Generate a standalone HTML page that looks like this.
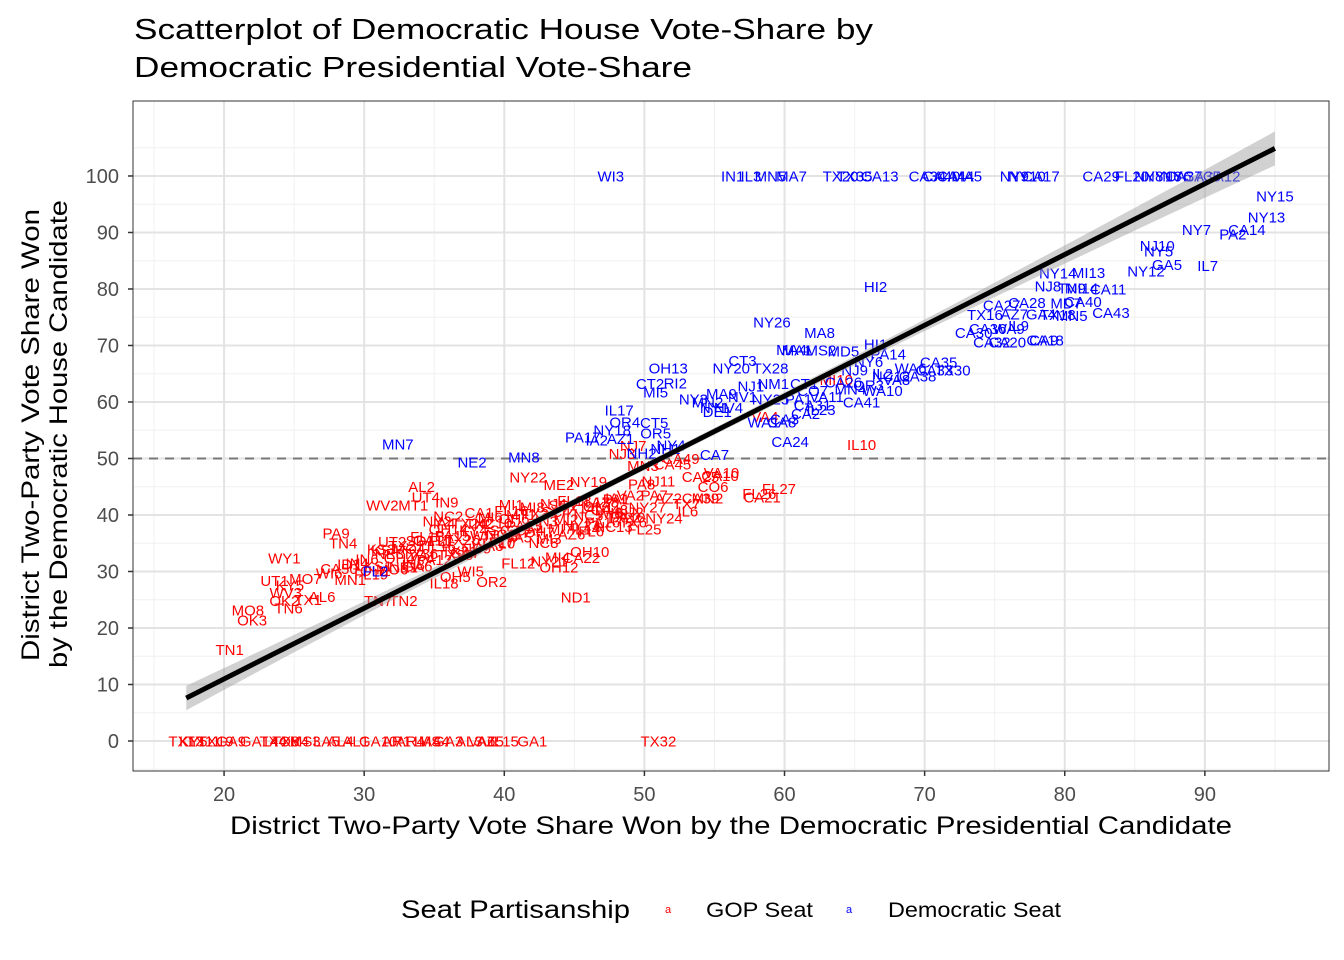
<!DOCTYPE html>
<html><head><meta charset="utf-8">
<style>
html,body{margin:0;padding:0;background:#fff;}
svg{display:block;font-family:"Liberation Sans",Arial,sans-serif;}
</style></head>
<body>
<svg id="chart" width="1344" height="960" viewBox="0 0 1344 960">
<text x="134" y="39" font-size="29" textLength="739" lengthAdjust="spacingAndGlyphs" fill="#000">Scatterplot of Democratic House Vote-Share by</text>
<text x="134" y="77" font-size="29" textLength="558" lengthAdjust="spacingAndGlyphs" fill="#000">Democratic Presidential Vote-Share</text>
<g id="panel"></g>
<text x="230" y="834" font-size="25" textLength="1002" lengthAdjust="spacingAndGlyphs">District Two-Party Vote Share Won by the Democratic Presidential Candidate</text>
<g transform="translate(0,436) rotate(-90)">
<text x="-225" y="39" font-size="25" textLength="452" lengthAdjust="spacingAndGlyphs">District Two-Party Vote Share Won</text>
<text x="-232" y="67" font-size="25" textLength="468" lengthAdjust="spacingAndGlyphs">by the Democratic House Candidate</text>
</g>
<g>
<text x="401" y="918" font-size="25" textLength="229" lengthAdjust="spacingAndGlyphs">Seat Partisanship</text>
<text x="668" y="913" font-size="11" fill="#ff0000" text-anchor="middle">a</text>
<text x="706" y="917" font-size="21" textLength="107" lengthAdjust="spacingAndGlyphs">GOP Seat</text>
<text x="849" y="913" font-size="11" fill="#0000ff" text-anchor="middle">a</text>
<text x="888" y="917" font-size="21" textLength="173" lengthAdjust="spacingAndGlyphs">Democratic Seat</text>
</g>
</svg>
<script>
const xTicks=[20,30,40,50,60,70,80,90];
const yTicks=[0,10,20,30,40,50,60,70,80,90,100];
const fitSlope=1.252, fitIntercept=-14.06, fitXMin=17.3, fitXMax=95;
const refLine=50;
const demLabels=["WI3","IN1","IL3","MN5","MA7","TX20","TX35","CA13","CA34","CA40","CA44","MA5","NY9","NY10","CA17","CA29","FL20","NY8","NY16","NY6","CA37","CA35","CA12",
"NY15","NY13","CA14","PA2","NY7","NJ10","NY5","GA5","IL7","NY12","NY14","MI13","NJ8","TN9","MI14","CA11","MD7","CA40","CA28","CA27","TX16","AZ7","GA4","TX18","MN5","CA43","IL9","CA9","CA18","CA20","CA32","WA9","CA36",
"HI2","HI1","PA14","NY6","NJ9","NC12","CA38","CA35","CA30","CA33","TX30","MA8","NY26","MA1","MS2","MD5","CT3","NY20","TX28","OH13","CT2","RI2","MI5","IL17","OR4","CT5","NY18","OR5","IA2","AZ1","NY4","CA7","CA24","NM1","NJ1","CT1","MN4","CA26","WA10","OR3","IL2","VA8","MA9","NV1","NY25","PA1","CA31","WA1","CA3","CA8","IL23","DE1","NV4","MN2","NY1","CO7","MA4","MN7","NE2","MN8","PA17","FL2","NH2","NH1","VA11","CA41","WA6","NY3","CA2"];
const demX=[47.6,56.3,57.6,59,60.5,64,65,66.8,70.2,71.2,72.2,73,76.4,77.3,78.3,82.6,84.8,86,87,88,88.5,89.8,91.2,
95,94.4,93,92,89.4,86.6,86.7,87.3,90.2,85.8,79.5,81.7,78.8,80.5,81.2,83.1,80.1,81.3,77.3,75.5,74.3,76.4,78.3,79.5,80.5,83.3,76.7,78.5,78.6,75.9,74.8,76,74.5,
66.5,66.5,67.4,66,65,67.6,69.5,71,73.5,70.7,72,62.5,59.1,60.9,62.6,64.2,57,56.2,59,51.7,50.4,52.2,50.8,48.2,48.6,50.7,47.7,50.8,46.6,48.3,51.9,55,60.4,59.2,57.6,61.4,64.7,64.2,67,66,67,68,55.5,57,59,61,62,58.5,60,59.8,62.6,55.2,56,54.5,55,62,60.5,32.4,37.7,41.4,45.6,30.8,49.8,51.5,63,65.5,69,53.5,61.5];
const demY=[100,100,100,100,100,100,100,100,100,100,100,100,100,100,100,100,100,100,100,100,100,100,100,
96.5,92.7,90.5,89.7,90.5,87.7,86.7,84.3,84.2,83.2,82.8,82.9,80.5,80.2,80.2,80,77.5,77.8,77.6,77.2,75.5,75.6,75.6,75.5,75.3,75.8,73.5,71,71,70.6,70.6,73,73,
80.4,70.3,68.5,67.2,65.7,64.6,64.6,67.1,72.3,65.7,65.7,72.3,74.2,69.2,69.2,69,67.3,66,66,66,63.3,63.4,61.8,58.6,56.5,56.4,55,54.5,53.3,53.5,52.4,50.7,53,63.3,62.8,63.3,62.3,63.5,62,63,65,64,61.5,61,60.5,60.5,59.5,56.5,57,56.5,58.7,58.3,59,60,59,62,69.3,52.6,49.4,50.3,53.8,30.1,51,51.8,61,60,66,60.5,58];
const gopLabels=["IL10","VA4","MI10","AL2","UT4","IN9","WV2","MT1","MI1","IA4","TX2","PA9","TN4","UT2","SD1","FL1","WY1","ID1","UT1","MO7","KY5","WV3","OK2","TX1","AL6","MO8","OK3","TN6","TN7","TN2","TN1","OH5","IL18","OR2","WI5","FL12","NY21","MI4","OH12","OH10","CA22","ND1","NY22","ME2","NY19","PA8","NJ7","NJ3","MN3","CA45","CA49","CA10","CA25","CO6","FL27","CA21","FL26","MN2","AZ2","IL6","PA7","NY24","IA1","FL25","NJ2","CA48","NJ11","CA39","TX7","VA2","VA10",
"TX13","KY5","TX11","TX19","GA9","GA14","TX4","TX8","OK4","MS3","LA5","AL4","AL1","GA10","AR1","AR4","LA4","MS4","GA3","AL3","VA6","AZ5","IL15","GA1","TX32",
"IN4","IN6","KS1","NE3","OH4","MO4","TX36","GA11","IL16","PA15","TX26","KY4","WI7","NC10","SC3","OH6","PA13","TX3","IN3","SC4","MI2","TX14","NC5","OK1","WI8","FL19","MO6","IN8","PA12","TX25","NC9","TX10","VA5","OH7","MI7","NY23","PA16","TX22","KS4","TX21","FL15","OH14","TX24","MI6","FL16","MI8","NJ4","FL18","IL13","PA1","MN1","OH1","NE1","VA1","TX31","WA3","IA3","CA4","MI3","AZ6","FL6","NC13","TX6","CA50","GA6","GA7","FL7","NC8","IL14","PA10","WI6","KS3","NY2","CA1","MT1","SC1","AZ8","NY27","NC2","NC11","CO3","CO5","KY6","FL3","VA7","MO2","IL12","WI1"];
const gopX=[65.5,58.6,63.7,34.1,34.4,35.9,31.3,33.5,40.5,35.7,38.2,28,28.5,32,34,35.5,24.3,28.9,23.6,25.8,24.7,24.4,24.3,26,27,21.7,22,24.6,31,32.8,20.4,36.5,35.7,39.1,37.6,41,43.2,43.8,43.9,46.1,45.5,45.1,41.7,43.9,46,49.8,49.2,48.4,49.9,52,52.6,55.4,54,54.9,59.6,58.4,58.2,54.5,51.7,53.1,50.7,51.4,48,50,49,47.5,51,54,53,49,55.5,
17.3,17.8,18.5,19.4,20.5,22.5,23.5,24.4,25,25.8,27.3,28.3,29.4,31,32.3,33.3,34.5,35,36,37.5,38.4,39,40,42,51,
29.5,30.2,31,31.8,32.5,33.2,34,34.8,35.5,36.3,37,37.8,38.5,39.2,40,40.7,41.4,42.2,43,43.7,44.4,45.2,46,46.7,47.5,30.5,32,33.5,35,36.5,38,39.5,41,42.5,44,45.5,47,48.5,31.5,33,34.5,36,37.5,39,40.5,42,43.5,45,46.5,48,29,30.8,32.8,34.2,36.8,38.8,40.2,41.8,43.2,44.8,46.2,47.8,49.2,28.2,33.8,37.2,39.8,42.8,45.8,48.8,27.5,31.2,35.2,38.2,41.2,44.2,47.2,50.2,36,40];
const gopY=[52.5,57.4,64,45,43.2,42.3,41.8,41.8,41.9,38.6,38.5,36.8,35,35.3,35.5,35.5,32.4,31.3,28.4,28.8,27.6,26.3,24.9,25,25.6,23.2,21.4,23.5,24.9,24.9,16.2,29.1,28,28.2,30.1,31.5,31.9,32.6,30.8,33.5,32.5,25.5,46.7,45.4,45.9,45.5,52.3,50.9,48.8,49,50,47,46.8,45,44.7,43.2,43.8,43,43,40.7,43.5,39.5,43,37.5,40.5,41,46,43,42,43.5,47.5,
0,0,0,0,0,0,0,0,0,0,0,0,0,0,0,0,0,0,0,0,0,0,0,0,0,
31.5,32.2,31,33.2,32.4,34.1,33.2,35.6,34.5,36.4,35.7,37.3,36.4,38.6,37.3,39.4,38.1,40.3,38.9,40.6,39.3,41.2,40,41.5,40.4,29.6,30.4,31.2,32.1,33,34.2,35,36.1,37,37.6,38.2,38.8,39.6,33.8,34.6,36.2,37.5,38.6,39.6,40.8,41.4,42,42.6,42.3,42.8,28.6,30.2,30.8,32.8,33.6,34.6,36.3,37.3,35.8,36.6,37.2,38,38.8,30.5,31,33.4,35.2,35.1,37.5,39.6,29.7,34,38.9,40.4,40.1,41.8,42.3,41.4,39.8,36.6];

const svg=document.getElementById('chart');
const panel=document.getElementById('panel');
const NS='http://www.w3.org/2000/svg';
const PL=133,PR=1329,PT=101,PB=771;
const XMIN=13.5,XMAX=98.86,YMIN=-5.31,YMAX=113.27;
function sx(v){return PL+(v-XMIN)/(XMAX-XMIN)*(PR-PL);}
function sy(v){return PB-(v-YMIN)/(YMAX-YMIN)*(PB-PT);}
function mk(tag,attrs,parent){const e=document.createElementNS(NS,tag);for(const k in attrs)e.setAttribute(k,attrs[k]);(parent||panel).appendChild(e);return e;}
mk('rect',{x:PL,y:PT,width:PR-PL,height:PB-PT,fill:'#fff'});
for(let i=0;i<xTicks.length+1;i++){const v=xTicks[0]-5+i*10;if(v<XMIN||v>XMAX)continue;
const l=mk('line',{x1:sx(v),x2:sx(v),y1:PT,y2:PB,stroke:'#f0f0f0','stroke-width':1});

}
for(let i=0;i<yTicks.length+1;i++){const v=yTicks[0]-5+i*10;if(v<YMIN||v>YMAX)continue;
const l=mk('line',{x1:PL,x2:PR,y1:sy(v),y2:sy(v),stroke:'#f0f0f0','stroke-width':1});

}
xTicks.forEach(v=>{const l=mk('line',{x1:sx(v),x2:sx(v),y1:PT,y2:PB,stroke:'#e3e3e3','stroke-width':2});


mk('line',{x1:sx(v),x2:sx(v),y1:PB,y2:PB+5,stroke:'#333','stroke-width':1.5},svg);
const t=mk('text',{x:sx(v),y:PB+30,'font-size':20,'text-anchor':'middle',fill:'#4d4d4d'},svg);t.textContent=v;

});
yTicks.forEach(v=>{const l=mk('line',{x1:PL,x2:PR,y1:sy(v),y2:sy(v),stroke:'#e3e3e3','stroke-width':2});


mk('line',{x1:PL-5,x2:PL,y1:sy(v),y2:sy(v),stroke:'#333','stroke-width':1.5},svg);
const t=mk('text',{x:PL-14,y:sy(v)+7,'font-size':20,'text-anchor':'end',fill:'#4d4d4d'},svg);t.textContent=v;

});
const rl=mk('line',{x1:PL,x2:PR,y1:sy(refLine),y2:sy(refLine),stroke:'#777','stroke-width':2,'stroke-dasharray':'9,7'});


function drawLabels(labels,xs,ys,color,name){
 const g=mk('g',{});
 
 
 for(let i=0;i<labels.length;i++){
  const t=mk('text',{x:sx(xs[i]),y:sy(ys[i])+5.5,'font-size':15,'text-anchor':'middle',fill:color},g);
  t.textContent=labels[i];
  
  
 }
}
drawLabels(gopLabels,gopX,gopY,'#ff0000','gop-seat-labels');
drawLabels(demLabels,demX,demY,'#0000ff','democratic-seat-labels');
let up=[],dn=[];
for(let k=0;k<=40;k++){const x=fitXMin+(fitXMax-fitXMin)*k/40;const y=fitSlope*x+fitIntercept;const hw=0.6+0.0013*(x-52)*(x-52);
up.push(sx(x)+','+sy(y+hw));dn.unshift(sx(x)+','+sy(y-hw));}
const rib=mk('polygon',{points:up.concat(dn).join(' '),fill:'#999','fill-opacity':0.45});


const fl=mk('line',{x1:sx(fitXMin),y1:sy(fitSlope*fitXMin+fitIntercept),x2:sx(fitXMax),y2:sy(fitSlope*fitXMax+fitIntercept),stroke:'#000','stroke-width':5});


const bd=mk('rect',{x:PL,y:PT,width:PR-PL,height:PB-PT,fill:'none',stroke:'#333','stroke-width':1});


</script>
</body></html>
